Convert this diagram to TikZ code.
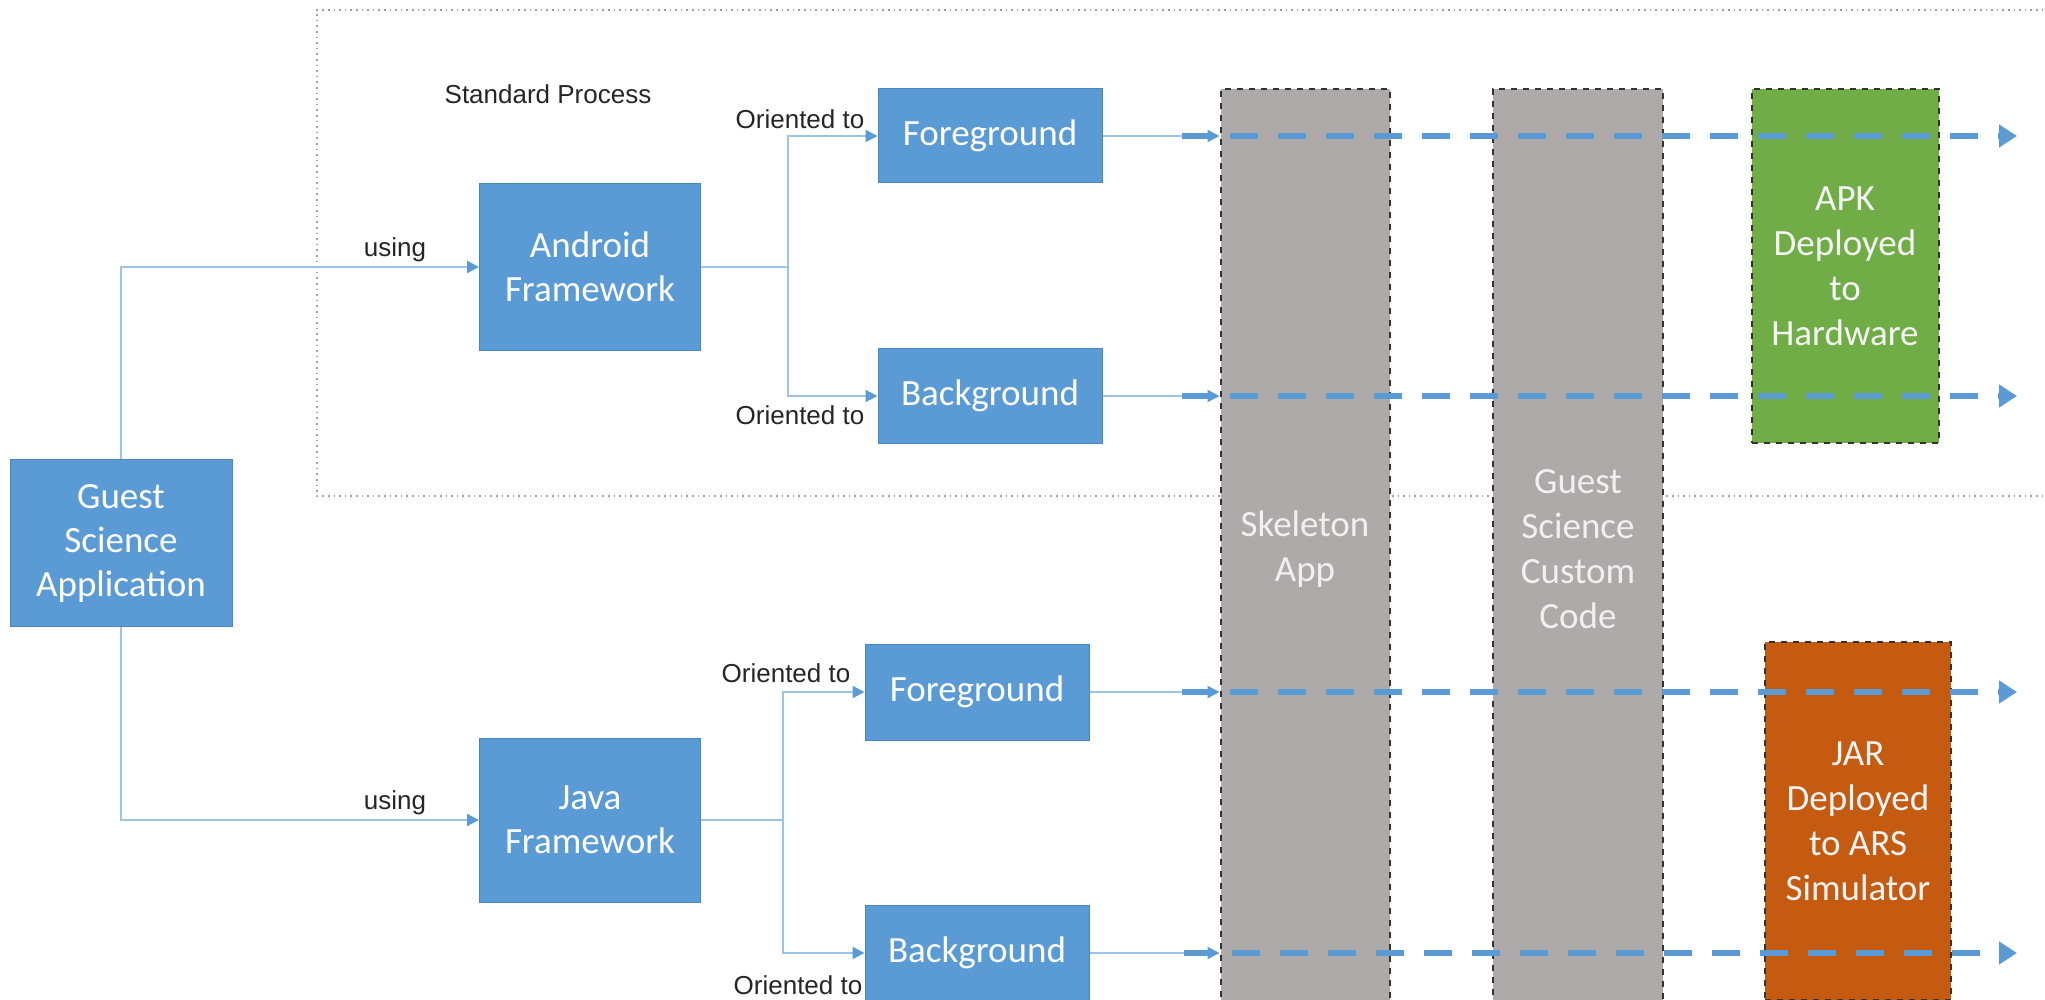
\documentclass[tikz,border=0pt]{standalone}
\usepackage{fontspec}
\setmainfont{Carlito}
\newfontfamily\labfont{Liberation Sans}
\usetikzlibrary{arrows.meta}
\definecolor{boxblue}{HTML}{5B9BD5}
\definecolor{boxedge}{HTML}{4A86C2}
\definecolor{linkblue}{HTML}{9DC3E6}
\definecolor{colgray}{HTML}{AEAAAA}
\definecolor{apkgreen}{HTML}{70AD47}
\definecolor{jarorange}{HTML}{C55A11}
\definecolor{framegray}{HTML}{A0A0A0}
\begin{document}
\begin{tikzpicture}[x=0.5pt,y=-0.5pt,
  bluebox/.style={draw=boxedge, fill=boxblue, line width=0.5pt, text=white, align=center,
    font=\fontsize{18.5}{22}\selectfont, inner sep=0pt},
  column/.style={draw=black!80, dashed, line width=1pt, fill=colgray, text=white!88!gray,
    align=center, font=\fontsize{18.5}{22.5}\selectfont, inner sep=0pt},
  deploy/.style={draw=black!80, dashed, line width=1pt, text=white!92!gray,
    align=center, font=\fontsize{18.5}{22.5}\selectfont, inner sep=0pt},
  link/.style={draw=linkblue, line width=1pt, -{Triangle[length=6pt,width=6pt,fill=boxblue,color=boxblue]}},
  plainlink/.style={draw=linkblue, line width=1pt},
  dasharrow/.style={draw=boxblue, line width=3pt, dash pattern=on 14pt off 10pt,
    -{Triangle[length=9pt,width=11pt]}},
  lab/.style={font=\labfont\fontsize{13}{15}\selectfont, text=black!85, inner sep=0pt}
]
\useasboundingbox (0,0) rectangle (2045,1000);
\fill[white] (0,0) rectangle (2045,1000);

% standard process frame
\draw[framegray, dotted, line width=0.8pt] (2060,10) -- (317,10) -- (317,496) -- (2060,496);
\node[lab] (stdproc) at (548,94) {Standard Process};

% columns
\node[column, minimum width=84.5pt, minimum height=460pt] (skel) at (1305,549) {Skeleton\\App};
\node[column, minimum width=85pt, minimum height=460pt] (gscc) at (1578,549) {Guest\\Science\\Custom\\Code};
\node[deploy, fill=apkgreen, minimum width=93.5pt, minimum height=177pt] (apk) at (1845,266) {APK\\Deployed\\to\\Hardware};
\node[deploy, fill=jarorange, minimum width=93pt, minimum height=179pt] (jar) at (1858,821) {JAR\\Deployed\\to ARS\\Simulator};

% blue boxes
\node[bluebox, minimum width=111pt, minimum height=83.5pt] (guest) at (121,543) {Guest\\Science\\Application};
\node[bluebox, minimum width=110.5pt, minimum height=83.5pt] (android) at (590,267) {Android\\Framework};
\node[bluebox, minimum width=110.5pt, minimum height=82pt] (java) at (590,820) {Java\\Framework};
\node[bluebox, minimum width=112pt, minimum height=47pt] (fgt) at (990,136) {Foreground};
\node[bluebox, minimum width=112pt, minimum height=47.5pt] (bgt) at (990,396) {Background};
\node[bluebox, minimum width=112pt, minimum height=48pt] (fgb) at (977,692) {Foreground};
\node[bluebox, minimum width=112pt, minimum height=48pt] (bgb) at (977,953) {Background};

% labels
\node[lab] (using1) at (395,250) {using};
\node[lab] (using2) at (395,803) {using};
\node[lab] (ot1) at (800,119) {Oriented to};
\node[lab] (ot2) at (800,415) {Oriented to};
\node[lab] (ot3) at (786,673) {Oriented to};
\node[lab] (ot4) at (798,985) {Oriented to};

% connectors
\draw[link] (guest.north) |- (android.west);
\draw[link] (guest.south) |- (java.west);

\coordinate (bt) at (788,267);
\draw[plainlink] (android.east) -- (bt);
\draw[link] (bt) |- (fgt.west);
\draw[link] (bt) |- (bgt.west);

\coordinate (bb) at (783,820);
\draw[plainlink] (java.east) -- (bb);
\draw[link] (bb) |- (fgb.west);
\draw[link] (bb) |- (bgb.west);

\draw[link] (fgt.east) -- (fgt.east -| skel.west);
\draw[link] (bgt.east) -- (bgt.east -| skel.west);
\draw[link] (fgb.east) -- (fgb.east -| skel.west);
\draw[link] (bgb.east) -- (bgb.east -| skel.west);

% dashed deployment arrows
\coordinate (d1s) at (1182,136); \coordinate (d1e) at (2017,136);
\coordinate (d2s) at (1182,396); \coordinate (d2e) at (2017,396);
\coordinate (d3s) at (1182,692); \coordinate (d3e) at (2017,692);
\coordinate (d4s) at (1184,953); \coordinate (d4e) at (2017,953);
\draw[dasharrow] (d1s) -- (d1e);
\draw[dasharrow] (d2s) -- (d2e);
\draw[dasharrow] (d3s) -- (d3e);
\draw[dasharrow] (d4s) -- (d4e);
\end{tikzpicture}
\end{document}
